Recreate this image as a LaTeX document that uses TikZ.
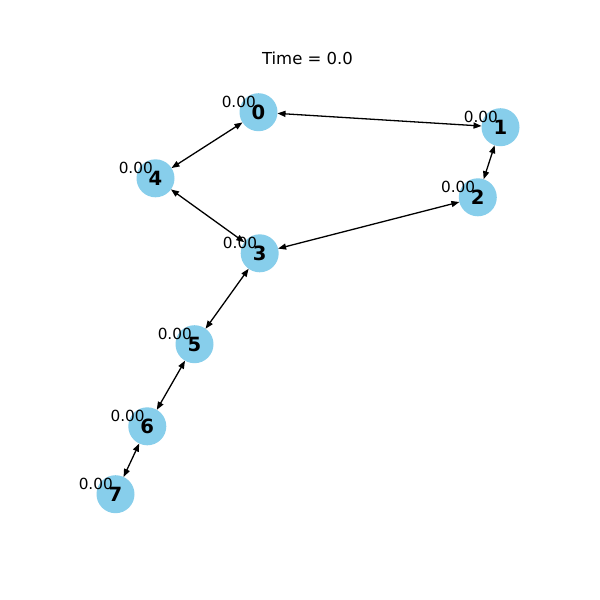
\documentclass[tikz,border=0pt]{standalone}
\usepackage{fontspec}
\setmainfont{DejaVu Sans}
\usetikzlibrary{arrows.meta}
\definecolor{skyblue}{RGB}{135,206,235}
\tikzset{
  x=1pt, y=-1pt,
  vertex/.style={circle, fill=skyblue, minimum size=38pt, inner sep=0pt, outer sep=0pt,
    font=\fontsize{19.6}{19.6}\selectfont\bfseries},
  value/.style={anchor=base, inner sep=0pt, font=\fontsize{15.3}{15.3}\selectfont},
  link/.style={line width=1.3pt, {Triangle[length=8pt,width=6pt]}-{Triangle[length=8pt,width=6pt]}},
}
\begin{document}
\begin{tikzpicture}
\useasboundingbox (0,0) rectangle (600,600);
\fill[white] (0,0) rectangle (600,600);
\node[font=\fontsize{16.5}{16.5}\selectfont] (title) at (307.5,58) {Time = 0.0};
% vertices
\node[vertex] (n0) at (258.5,112.2) {0};
\node[vertex] (n1) at (500.5,127.2) {1};
\node[vertex] (n2) at (477.8,197.3) {2};
\node[vertex] (n3) at (259.7,253.3) {3};
\node[vertex] (n4) at (155.5,178.3) {4};
\node[vertex] (n5) at (194.5,344.2) {5};
\node[vertex] (n6) at (147.3,426.3) {6};
\node[vertex] (n7) at (115.5,494.2) {7};
% edges
\draw[link] (n0) -- (n1);
\draw[link] (n0) -- (n4);
\draw[link] (n1) -- (n2);
\draw[link] (n2) -- (n3);
\draw[link] (n3) -- (n4);
\draw[link] (n3) -- (n5);
\draw[link] (n5) -- (n6);
\draw[link] (n6) -- (n7);
% vertex values
\foreach \v in {0,...,7}{
  \node[value] (v\v) at ([shift={(-19.7,-4.9)}]n\v.center) {0.00};
}
\end{tikzpicture}
\end{document}
